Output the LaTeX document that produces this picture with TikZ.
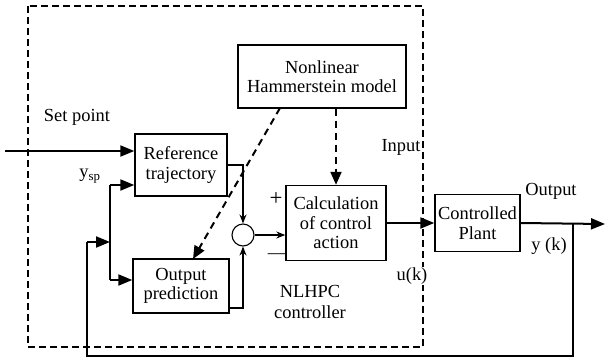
\documentclass[tikz,border=0pt]{standalone}
\usepackage{fontspec}
\setmainfont{Liberation Serif}
\usetikzlibrary{arrows.meta}

\begin{document}
\begin{tikzpicture}[x=1bp,y=-1bp,
    font=\fontsize{18.5}{19.5}\selectfont,
    block/.style={draw,line width=1.4bp,align=center,inner sep=1bp},
    thickarrow/.style={line width=2bp,-{Triangle[length=14bp,width=11bp]}},
    thinarrow/.style={line width=1.1bp,-{Stealth[length=9bp,width=7bp]}},
    modelarrow/.style={line width=2bp,dash pattern=on 7bp off 5bp,-{Triangle[length=13bp,width=11bp]}}]

  \useasboundingbox (0,0) rectangle (605,360);

  % controller frame
  \draw[line width=2bp,dash pattern=on 7bp off 4bp] (28,6) rectangle (423,347);

  \begin{scope}[every node/.style={block}]
    \node[minimum width=168bp,minimum height=63bp] (ham)  at (322,76.5) {Nonlinear\\Hammerstein model};
    \node[minimum width=92bp,minimum height=62bp]  (ref)  at (181,165)  {Reference\\trajectory};
    \node[minimum width=96bp,minimum height=54bp]  (pred) at (181,286)  {Output\\prediction};
    \node[minimum width=100bp,minimum height=75bp] (calc) at (336,223)  {Calculation\\of control\\action};
    \node[minimum width=85bp,minimum height=57bp]  (plant) at (477.5,223) {Controlled\\Plant};
    \node[circle,minimum size=22bp,inner sep=0pt,line width=1.1bp] (sum) at (243,235) {};
  \end{scope}

  \begin{scope}[every node/.style={inner sep=1bp}]
    \node (setlbl) at (77,117)  {Set point};
    \node (yslbl)  at (90,176)  {y\textsubscript{sp}};
    \node (inlbl)  at (401,147) {Input};
    \node[fill=white] (uklbl) at (412,276) {u(k)};
    \node (outlbl) at (551,191) {Output};
    \node (yklbl)  at (549,246) {y (k)};
    \node[align=center,font=\fontsize{18.5}{20.5}\selectfont] (ctrl) at (310,302) {NLHPC\\controller};
    \node[font=\fontsize{23}{24}\selectfont] (plus) at (276,199) {+};
    \node (minus)  at (277,256) {---};
  \end{scope}

  \coordinate (spin)  at (5,151);
  \coordinate (split) at (573,224);
  \coordinate (yend)  at (605,224);
  \coordinate (fbtop) at (110,185);
  \coordinate (fbbot) at (110,280);
  \coordinate (fbin)  at (87,242);
  \coordinate (rtc)   at (243,165);
  \coordinate (opc)   at (243,308);
  \coordinate (hamd)  at (280,108);

  % main signal path
  \draw[thickarrow] (spin) -- (spin -| ref.west);
  \draw[thickarrow] (calc.east) -- (plant.west);
  \draw[thickarrow] (plant.east) -- (yend);

  % feedback of y(k)
  \draw[line width=1.5bp] (split) -- (573,356) -- (87,356) -- (fbin);
  \draw[thickarrow] (fbin) -- (fbin -| fbtop);
  \draw[line width=2bp] (fbtop) -- (fbbot);
  \draw[thickarrow] (fbtop) -- (fbtop -| ref.west);
  \draw[thickarrow] (fbbot) -- (fbbot -| pred.west);

  % comparison
  \draw[thinarrow] (ref.east |- rtc) -- (rtc) -- (sum.north);
  \draw[thinarrow] (pred.east |- opc) -- (opc) -- (sum.south);
  \draw[thinarrow] (sum.east) -- (sum.east -| calc.west);

  % model
  \draw[modelarrow] (ham.south -| calc.north) -- (calc.north);
  \draw[modelarrow] (hamd) -- (193,259);

\end{tikzpicture}
\end{document}
